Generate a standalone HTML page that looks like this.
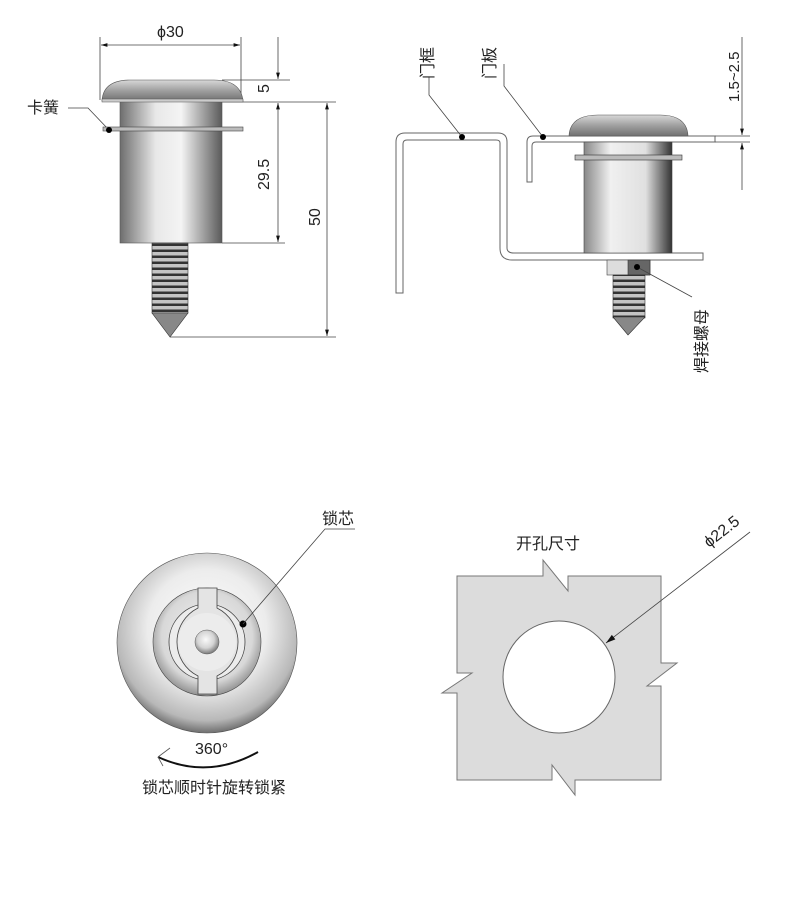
<!DOCTYPE html>
<html><head><meta charset="utf-8"><style>
html,body{margin:0;padding:0;background:#fff;}
svg{display:block;}
text{font-family:"Liberation Sans","Noto Sans CJK SC",sans-serif;fill:#222;}
</style></head><body>
<svg width="788" height="900" viewBox="0 0 788 900" xmlns="http://www.w3.org/2000/svg">
<defs>
<linearGradient id="cyl" x1="0" x2="1" y1="0" y2="0">
<stop offset="0" stop-color="#6e6e6e"/><stop offset="0.35" stop-color="#e8e8e8"/><stop offset="0.6" stop-color="#f4f4f4"/><stop offset="1" stop-color="#5a5a5a"/></linearGradient>
<linearGradient id="cyl2" x1="0" x2="1" y1="0" y2="0">
<stop offset="0" stop-color="#888"/><stop offset="0.3" stop-color="#f0f0f0"/><stop offset="0.7" stop-color="#e0e0e0"/><stop offset="1" stop-color="#333"/></linearGradient>
<linearGradient id="dome" x1="0" x2="0" y1="0" y2="1">
<stop offset="0" stop-color="#d8d8d8"/><stop offset="0.5" stop-color="#a0a0a0"/><stop offset="1" stop-color="#707070"/></linearGradient>
<radialGradient id="ball" cx="0.45" cy="0.4" r="0.7">
<stop offset="0" stop-color="#fafafa"/><stop offset="0.5" stop-color="#d4d4d4"/><stop offset="1" stop-color="#555"/></radialGradient>
<radialGradient id="big" cx="0.5" cy="0.42" r="0.6">
<stop offset="0" stop-color="#ffffff"/><stop offset="0.55" stop-color="#ececec"/><stop offset="0.85" stop-color="#b8b8b8"/><stop offset="1" stop-color="#5a5a5a"/></radialGradient>
<radialGradient id="inner" cx="0.5" cy="0.45" r="0.6">
<stop offset="0" stop-color="#f4f4f4"/><stop offset="0.7" stop-color="#d8d8d8"/><stop offset="1" stop-color="#777"/></radialGradient>
<pattern id="thread" width="10" height="6" patternUnits="userSpaceOnUse">
<rect width="10" height="6" fill="#c4c4c4"/><rect y="3.5" width="10" height="2.5" fill="#333"/></pattern>
<marker id="ar" viewBox="0 0 10 10" refX="10" refY="5" markerWidth="10" markerHeight="8" orient="auto-start-reverse"><path d="M0,2L10,5L0,8z" fill="#111"/></marker>
<marker id="ar2" viewBox="0 0 10 10" refX="10" refY="5" markerWidth="16" markerHeight="12" orient="auto"><path d="M0,2L10,5L0,8z" fill="#111"/></marker>
</defs>

<g stroke="#444" stroke-width="0.8" fill="none">
<line x1="100" y1="37" x2="100" y2="100"/><line x1="241" y1="37" x2="241" y2="100"/>
<line x1="101" y1="45" x2="240" y2="45" marker-start="url(#ar)" marker-end="url(#ar)"/>
<line x1="222" y1="80" x2="290" y2="80"/><line x1="170" y1="102" x2="336" y2="102"/>
<line x1="222" y1="243" x2="285" y2="243"/><line x1="170" y1="337" x2="336" y2="337"/>
<line x1="278" y1="37" x2="278" y2="79" marker-end="url(#ar)"/>
<line x1="278" y1="103" x2="278" y2="242" marker-start="url(#ar)" marker-end="url(#ar)"/>
<line x1="327" y1="103" x2="327" y2="336" marker-start="url(#ar)" marker-end="url(#ar)"/>
<polyline points="68,108 88,108 109,130"/>
</g>
<text x="157" y="37" font-size="16">ϕ30</text>
<text font-size="16" transform="translate(269,93) rotate(-90)">5</text>
<text font-size="16" transform="translate(269,190) rotate(-90)">29.5</text>
<text font-size="16" transform="translate(320,226) rotate(-90)">50</text>
<text x="27" y="113" font-size="16">卡簧</text>
<rect x="120" y="100" width="102" height="143" fill="url(#cyl)" stroke="#555" stroke-width="0.6"/>
<path d="M102,101 Q103,80 130,80 L214,80 Q241,80 243,101 Z" fill="url(#dome)" stroke="#555" stroke-width="0.6"/>
<rect x="102" y="99" width="141" height="3" fill="#ccc" stroke="#555" stroke-width="0.5"/>
<rect x="103" y="127" width="140" height="4" fill="#bbb" stroke="#444" stroke-width="0.6"/>
<rect x="152" y="243" width="36" height="70" fill="url(#thread)" stroke="#333" stroke-width="0.6"/>
<path d="M152,313 L188,313 L170,337 Z" fill="#888" stroke="#333" stroke-width="0.6"/>
<circle cx="109" cy="130" r="3" fill="#000"/>

<g fill="#fff" stroke="#666" stroke-width="1">
<path d="M396,293 L396,142 Q396,133 405,133 L498,133 Q507,133 507,142 L507,248 Q507,253 514,253 L703,253 L703,260 L512,260 Q500,260 500,248 L500,143 Q500,140 496,140 L407,140 Q403,140 403,144 L403,293 Z"/>
<path d="M527,182 L527,142 Q527,136 533,136 L715,136 L715,142 L536,142 Q532,142 532,146 L532,182 Z"/>
</g>
<rect x="584" y="142" width="88" height="111" fill="url(#cyl2)" stroke="#444" stroke-width="0.6"/>
<rect x="575" y="155" width="107" height="5" fill="#bbb" stroke="#333" stroke-width="0.6"/>
<path d="M569,136 Q570,115 598,115 L660,115 Q687,115 688,136 Z" fill="url(#dome)" stroke="#555" stroke-width="0.6"/>
<rect x="607" y="260" width="43" height="15" fill="#ddd" stroke="#444" stroke-width="0.6"/>
<rect x="628" y="260" width="22" height="15" fill="#666" stroke="#333" stroke-width="0.6"/>
<rect x="613" y="275" width="32" height="43" fill="url(#thread)" stroke="#333" stroke-width="0.6"/>
<path d="M613,317 L645,317 L628,335 Z" fill="#888" stroke="#333" stroke-width="0.6"/>
<g stroke="#444" stroke-width="0.8" fill="none">
<polyline points="429,77 429,95 462,137"/>
<polyline points="504,64 504,86 543,137"/>
<line x1="637" y1="267" x2="692" y2="297"/>
<line x1="742" y1="37" x2="742" y2="135" marker-end="url(#ar)"/>
<line x1="742" y1="143" x2="742" y2="190" marker-start="url(#ar)"/>
<line x1="715" y1="136" x2="750" y2="136"/><line x1="715" y1="142" x2="750" y2="142"/>
</g>
<circle cx="462" cy="137" r="3" fill="#000"/><circle cx="543" cy="137" r="3" fill="#000"/><circle cx="637" cy="267" r="3" fill="#000"/>
<text font-size="16" transform="translate(433,79) rotate(-90)">门框</text>
<text font-size="16" transform="translate(495,79) rotate(-90)">门板</text>
<text font-size="15" transform="translate(739,102) rotate(-90)">1.5~2.5</text>
<text font-size="16" transform="translate(707,373) rotate(-90)">焊接螺母</text>

<circle cx="207" cy="643" r="90" fill="url(#big)" stroke="#555" stroke-width="0.6"/>
<circle cx="207" cy="642" r="54" fill="url(#inner)" stroke="#444" stroke-width="0.6"/>
<circle cx="207" cy="642" r="38" fill="#ececec" stroke="#444" stroke-width="0.8"/>
<path d="M198,588 L217,588 L217,608 A38,38 0 0 1 217,676 L217,694 L198,694 L198,676 A38,38 0 0 1 198,608 Z" fill="#e4e4e4" stroke="#444" stroke-width="0.8"/>
<circle cx="207" cy="642" r="29" fill="#ececec" stroke="none"/>
<circle cx="207" cy="642" r="12" fill="url(#ball)" stroke="#555" stroke-width="0.5"/>
<circle cx="243" cy="624" r="3.5" fill="#000"/>
<polyline points="243,624 325,529 355,529" fill="none" stroke="#444" stroke-width="0.8"/>
<text x="322" y="524" font-size="16">锁芯</text>
<path d="M158,757 Q208,780 258,752" fill="none" stroke="#111" stroke-width="2"/>
<path d="M158,757 L170,748 M158,757 L163,766" stroke="#555" stroke-width="0.8"/>
<text x="195" y="754" font-size="16">360°</text>
<text x="142" y="793" font-size="16">锁芯顺时针旋转锁紧</text>

<text x="516" y="549" font-size="16">开孔尺寸</text>
<path d="M457,576 L543,576 L543,560 L568,591 L568,576 L661,576 L661,663 L677,663 L647,686 L661,686 L661,780 L575,780 L575,795 L552,765 L552,780 L457,780 L457,693 L442,693 L472,673 L457,673 Z" fill="#dcdcdc" stroke="#777" stroke-width="1"/>
<circle cx="559" cy="677" r="56" fill="#fff" stroke="#666" stroke-width="1"/>
<line x1="750" y1="532" x2="606" y2="643" stroke="#444" stroke-width="0.8" marker-end="url(#ar2)"/>
<text font-size="16" transform="translate(709,548) rotate(-38)">ϕ22.5</text>
</svg>
</body></html>
